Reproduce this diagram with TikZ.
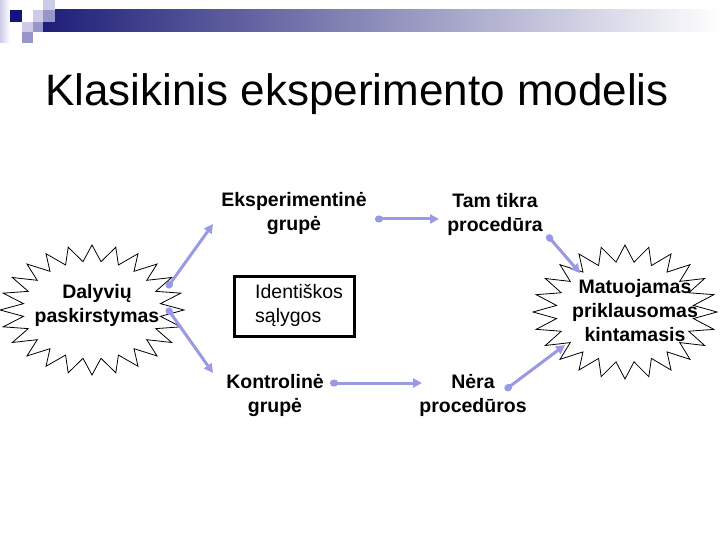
\documentclass[tikz,border=0pt]{standalone}
\usepackage{fontspec}
\setmainfont{Liberation Sans}
\usetikzlibrary{arrows.meta,calc}
\definecolor{lav}{RGB}{153,153,230}
\definecolor{navyd}{RGB}{20,20,128}
\definecolor{lightl}{RGB}{204,204,232}
\definecolor{medl}{RGB}{150,150,200}
\definecolor{barl}{RGB}{30,30,120}
\definecolor{barm}{RGB}{170,170,192}
\newcommand\burstshape[5]{%
  \draw[#5] (#1,#2-#4) \foreach \k in {1,...,47}{ -- ({#1+ifthenelse(mod(\k,2)==0,1,0.75)*#3*cos(90-\k*7.5)},{#2-ifthenelse(mod(\k,2)==0,1,0.75)*#4*sin(90-\k*7.5)}) } -- cycle;}
\tikzset{
  lbl/.style={font=\bfseries\fontsize{19.5}{24}\selectfont, align=center, inner sep=0pt},
  plain/.style={font=\fontsize{19.5}{24}\selectfont, align=left, inner sep=0pt},
  conn/.style={draw=lav, line width=3pt, {Circle[length=8pt,width=7pt]}-{Triangle[length=9pt,width=9pt]}},
  burst/.style={draw=black, line width=0.8pt, fill=white, line join=miter},
  sq/.style={draw=none},
}
\begin{document}
\begin{tikzpicture}[x=1pt,y=-1pt]
\useasboundingbox (0,0) rectangle (720,540);
% header decoration
\shade[left color=barl, middle color=barm, right color=white] (43,10) rectangle (720,32);
\shade[left color=lightl, right color=white] (0,0) rectangle (10,43);
\fill[navyd] (10,10) rectangle (22,22);
\fill[white] (22,10) rectangle (33,22);
\fill[lightl] (33,10) rectangle (43,22);
\fill[lightl] (43,0) rectangle (55,10);
\fill[medl] (43,10) rectangle (55,22);
\fill[lightl] (22,22) rectangle (33,32);
\fill[medl] (33,22) rectangle (43,32);
\fill[medl] (22,32) rectangle (33,43);
% title
\node[anchor=base west, inner sep=0pt, font=\fontsize{44}{50}\selectfont] (title) at (45,106) {Klasikinis eksperimento modelis};
% starbursts
\burstshape{92}{310}{92}{65}{burst}
\burstshape{625}{312}{92}{67}{burst}
% labels
\node[lbl] (dal) at (97,305) {Dalyvių\\paskirstymas};
\node[lbl] (mat) at (635,311) {Matuojamas\\priklausomas\\kintamasis};
\node[lbl] (exp) at (294,214) {Eksperimentinė\\grupė};
\node[lbl] (tam) at (495,214) {Tam tikra\\procedūra};
\node[lbl] (kon) at (275,395) {Kontrolinė\\grupė};
\node[lbl] (ner) at (473,395) {Nėra\\procedūros};
\node[draw, line width=3pt, minimum width=120pt, minimum height=60pt, inner sep=0pt] (box) at (294,306.5) {};
\node[plain, anchor=west] (idt) at (255,305) {Identiškos\\sąlygos};
% connectors
\draw[conn] ($(dal.center)+(70,-17)$) -- ($(exp.center)+(-81,10)$);
\draw[conn] ($(dal.center)+(70,3)$) -- ($(kon.center)+(-62,-22)$);
\draw[conn] ($(exp.center)+(81,5)$) -- ($(tam.center)+(-56,5)$);
\draw[conn] ($(kon.center)+(55,-12)$) -- ($(ner.center)+(-51,-12)$);
\draw[conn] ($(tam.center)+(52,21)$) -- ($(mat.center)+(-55,-38)$);
\draw[conn] ($(ner.center)+(32,-5)$) -- ($(mat.center)+(-70,34)$);
\end{tikzpicture}
\end{document}
